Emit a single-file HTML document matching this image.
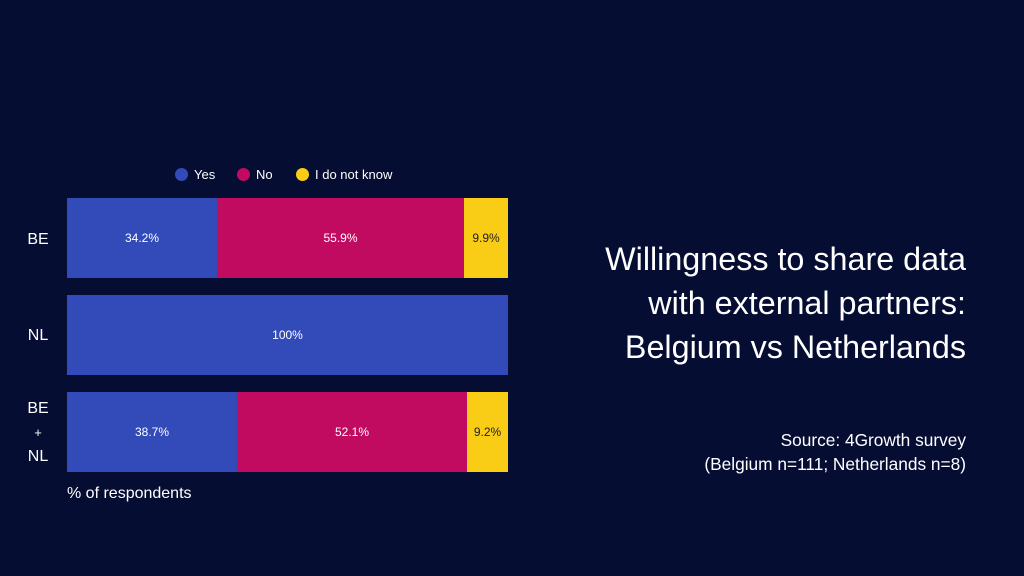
<!DOCTYPE html>
<html><head><style>
body{margin:0;width:1024px;height:576px;background:#060d33;font-family:"Liberation Sans",sans-serif;color:#fff;position:relative;overflow:hidden}
.a{position:absolute}
.seg{position:absolute;display:flex;align-items:center;justify-content:center;font-size:12px}
.b{background:#334bb8}.m{background:#c10b60}.y{background:#f9cc16;color:#222}
.dot{position:absolute;width:13px;height:13px;border-radius:50%}
.lg{position:absolute;font-size:13px;top:167px}
.lab{position:absolute;font-size:16px;text-align:center;width:40px}
</style></head><body>
<div class="dot b" style="left:175px;top:168px"></div><div class="lg" style="left:194px">Yes</div>
<div class="dot m" style="left:237px;top:168px"></div><div class="lg" style="left:256px">No</div>
<div class="dot y" style="left:296px;top:168px"></div><div class="lg" style="left:315px">I do not know</div>

<div class="lab" style="left:18px;top:231px">BE</div>
<div class="seg b" style="left:67px;top:198px;width:150px;height:80px">34.2%</div>
<div class="seg m" style="left:217px;top:198px;width:247px;height:80px">55.9%</div>
<div class="seg y" style="left:464px;top:198px;width:44px;height:80px">9.9%</div>

<div class="lab" style="left:18px;top:327px">NL</div>
<div class="seg b" style="left:67px;top:295px;width:441px;height:80px">100%</div>

<div class="lab" style="left:18px;top:397px;line-height:24px">BE<br><span style="font-size:13px">+</span><br>NL</div>
<div class="seg b" style="left:67px;top:392px;width:170px;height:80px">38.7%</div>
<div class="seg m" style="left:237px;top:392px;width:230px;height:80px">52.1%</div>
<div class="seg y" style="left:467px;top:392px;width:41px;height:80px">9.2%</div>

<div class="a" style="left:67px;top:485px;font-size:16px">% of respondents</div>

<div class="a" style="right:58px;top:237px;font-size:32.3px;line-height:44px;text-align:right">Willingness to share data<br>with external partners:<br>Belgium vs Netherlands</div>
<div class="a" style="right:58px;top:428px;font-size:17.3px;line-height:24px;text-align:right">Source: 4Growth survey<br>(Belgium n=111; Netherlands n=8)</div>
</body></html>
